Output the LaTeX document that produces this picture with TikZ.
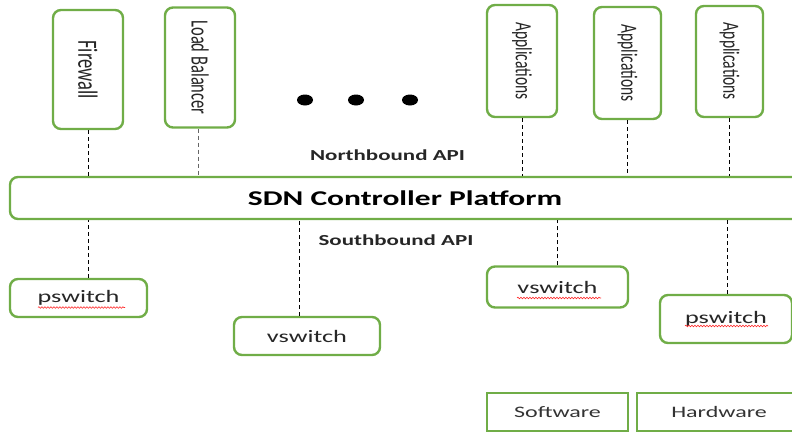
\documentclass[tikz,border=0pt]{standalone}
\usepackage{fontspec}
\usepackage{graphicx}
\setmainfont{Carlito}
\usetikzlibrary{decorations.pathmorphing,shapes.geometric}
\definecolor{boxgreen}{HTML}{70AD47}
\newcommand{\widetext}[1]{\scalebox{1.5}[1]{#1}}
\newcommand{\widevert}[1]{\scalebox{1}[1.5]{#1}}
\begin{document}
\begin{tikzpicture}[x=1pt,y=-1pt,
  gbox/.style={draw=boxgreen, line width=2.4pt, rounded corners=8pt, fill=white, inner sep=0pt, text=black!85},
  sbox/.style={draw=boxgreen, line width=2.4pt, fill=white, inner sep=0pt, text=black!80},
  vlabel/.style={rotate=-90, text=black!85},
  conn/.style={draw=black, line width=0.9pt, dash pattern=on 4pt off 3pt},
  spell/.style={draw=red!85, line width=0.6pt, decorate, decoration={snake, amplitude=0.8pt, segment length=3pt}},
  bigdot/.style={ellipse, fill=black, inner sep=0pt, minimum width=16pt, minimum height=11pt}
]
\useasboundingbox (0,0) rectangle (792,434);
\clip (0,0) rectangle (792,434);

% top boxes
\node[gbox, minimum width=70pt, minimum height=119pt, label={[vlabel, font=\fontsize{18.5}{18}\selectfont]center:\widevert{Firewall}}] (fw) at (88,69.5) {};
\node[gbox, minimum width=70pt, minimum height=120pt, label={[vlabel, font=\fontsize{16.5}{16}\selectfont]center:\widevert{Load Balancer}}] (lb) at (200,67.5) {};
\node[gbox, minimum width=70pt, minimum height=112pt, label={[vlabel, font=\fontsize{15.5}{15}\selectfont]center:\widevert{Applications}}] (app1) at (522,61) {};
\node[gbox, minimum width=67pt, minimum height=112pt, label={[vlabel, font=\fontsize{15.5}{15}\selectfont]center:\widevert{Applications}}] (app2) at (627.5,63) {};
\node[gbox, minimum width=67pt, minimum height=111pt, label={[vlabel, font=\fontsize{15.5}{15}\selectfont]center:\widevert{Applications}}] (app3) at (729.5,61.5) {};

% dots
\node[bigdot] (d1) at (305,100) {};
\node[bigdot] (d2) at (356,100) {};
\node[bigdot] (d3) at (410,100) {};

% controller
\node[gbox, minimum width=790pt, minimum height=42pt, font=\bfseries\fontsize{21}{21}\selectfont, text=black] (sdn) at (405,198) {\widetext{SDN Controller Platform}};
\node[font=\bfseries\fontsize{15.3}{15}\selectfont, text=black!85] (nb) at (387.5,155) {\widetext{Northbound API}};
\node[font=\bfseries\fontsize{15.3}{15}\selectfont, text=black!85] (sb) at (396,240) {\widetext{Southbound API}};

% bottom boxes
\node[gbox, minimum width=137pt, minimum height=38pt, font=\fontsize{17.5}{18}\selectfont] (ps1) at (78.5,298) {\widetext{pswitch}};
\node[gbox, minimum width=146pt, minimum height=38pt, font=\fontsize{17.5}{18}\selectfont] (vs1) at (307,336) {\widetext{vswitch}};
\node[gbox, minimum width=141pt, minimum height=41pt, font=\fontsize{17.5}{18}\selectfont] (vs2) at (557.5,287) {\widetext{vswitch}};
\node[gbox, minimum width=132pt, minimum height=48pt, font=\fontsize{17.5}{18}\selectfont] (ps2) at (726,319) {\widetext{pswitch}};

\node[sbox, minimum width=141pt, minimum height=38pt, font=\fontsize{16}{16}\selectfont] (sw) at (557.5,412) {\widetext{Software}};
\node[sbox, minimum width=164pt, minimum height=38pt, font=\fontsize{16}{16}\selectfont] (hw) at (719,412) {\widetext{Hardware}};

% connectors north
\draw[conn] (fw.south) -- (fw.south |- sdn.north);
\draw[conn, draw=black!60] (lb.south -| 198,0) -- (198,0 |- sdn.north);
\draw[conn] (app1.south) -- (app1.south |- sdn.north);
\draw[conn] (app2.south) -- (app2.south |- sdn.north);
\draw[conn] (app3.south) -- (app3.south |- sdn.north);

% connectors south
\draw[conn] (ps1.north -| 88,0) -- (88,0 |- sdn.south);
\draw[conn] (vs1.north -| 299,0) -- (299,0 |- sdn.south);
\draw[conn] (vs2.north) -- (vs2.north |- sdn.south);
\draw[conn] (ps2.north -| 727,0) -- (727,0 |- sdn.south);

% spell-check underlines
\draw[spell] (38,307.5) -- (125,307.5);
\draw[spell] (517,298) -- (601,298);
\draw[spell] (685,326) -- (768,326);
\end{tikzpicture}
\end{document}
